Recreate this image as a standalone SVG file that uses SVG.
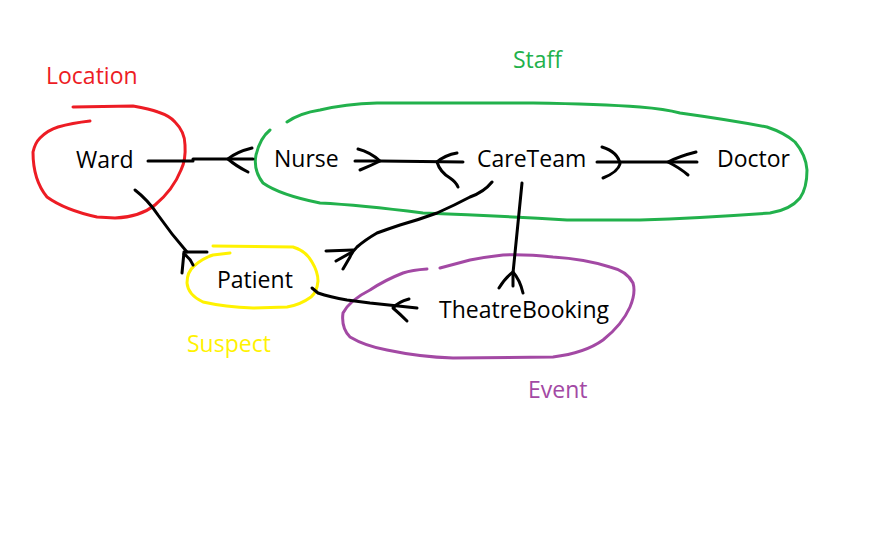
<svg xmlns="http://www.w3.org/2000/svg" width="880" height="536" viewBox="0 0 880 536">
<style>
  .bg { fill: #ffffff; }
  .t { font-family: "Open Sans", "Noto Sans", sans-serif; font-size: 23px; fill: #000000; }
  .loop { fill: none; stroke-width: 3; stroke-linecap: round; stroke-linejoin: round; }
  .conn { fill: none; stroke: #000000; stroke-width: 3; stroke-linecap: round; stroke-linejoin: round; }
  .red { stroke: #ed1c24; }
  .green { stroke: #22b14c; }
  .yellow { stroke: #fff200; }
  .purple { stroke: #a349a4; }
</style>
<rect class="bg" x="0" y="0" width="880" height="536"/>

<g id="location">
  <path class="loop red" d="M73,107 L133,106 Q150,109 158,112 Q170,116 175,122 Q185,132 185,145 Q186,160 181,170 Q173,190 155,205 Q140,217 115,218 L97,217 Q65,210 47,197 Q33,180 33,152 Q35,143 40,138 Q48,130 58,127 Q72,123 90,121"/>
  <text class="t" x="46" y="84" style="fill:#ed1c24">Location</text>
</g>

<g id="staff">
  <path class="loop green" d="M287,122 Q300,113 320,110 Q345,104 377,103 L533,103 Q600,104 640,107 Q665,109 680,113 Q730,120 767,127 Q785,133 795,142 Q806,155 807,170 Q807,188 800,198 Q790,210 770,213 Q700,218 640,220 L567,220 Q500,216 423,213 Q360,205 320,203 Q280,195 263,183 Q253,170 256,155 Q260,138 270,130"/>
  <text class="t" x="513" y="68" style="fill:#22b14c">Staff</text>
</g>

<g id="suspect">
  <path class="loop yellow" d="M213,246 L293,247 Q306,251 312,262 Q318,272 318,281 Q317,292 311,297 Q300,305 287,307 L253,308 Q225,307 203,302 Q188,295 187,283 Q187,272 194,266 Q203,258 213,255 L230,253"/>
  <text class="t" x="187" y="352" style="fill:#fff200">Suspect</text>
</g>

<g id="event">
  <path class="loop purple" d="M427,269 Q412,270 403,273 Q385,280 370,290 Q350,300 343,313 Q341,328 350,337 Q365,346 387,350 Q420,357 453,358 L553,357 Q585,353 603,340 Q622,325 630,307 Q636,293 633,283 Q627,271 610,267 Q585,259 553,257 Q525,254 503,255 Q485,257 470,260 Q455,264 440,268"/>
  <text class="t" x="528" y="398" style="fill:#a349a4">Event</text>
</g>

<g id="ward"><text class="t" x="76" y="168">Ward</text></g>
<g id="nurse"><text class="t" x="274" y="167">Nurse</text></g>
<g id="careteam"><text class="t" x="477" y="167">CareTeam</text></g>
<g id="doctor"><text class="t" x="717" y="167">Doctor</text></g>
<g id="patient"><text class="t" x="217" y="288">Patient</text></g>
<g id="theatrebooking"><text class="t" x="439" y="318">TheatreBooking</text></g>

<g id="connectors">
  <!-- Ward - Nurse -->
  <path class="conn" d="M148,161 L193,161 L193,159 L253,159"/>
  <path class="conn" d="M252,148 Q236,152 228,159 Q236,166 248,172"/>
  <!-- Ward - Patient -->
  <path class="conn" d="M135,190 Q148,200 158,215 Q172,235 187,252"/>
  <path class="conn" d="M207,252 L184,252 L182,273"/>
  <path class="conn" d="M184,254 Q190,258 193,265"/>
  <!-- Nurse - CareTeam -->
  <path class="conn" d="M355,161 L380,161 L463,162"/>
  <path class="conn" d="M358,149 Q370,152 380,161 Q370,166 360,170"/>
  <path class="conn" d="M457,153 Q445,155 437,162 Q440,172 450,178 Q456,182 458,187"/>
  <!-- CareTeam - Doctor -->
  <path class="conn" d="M597,162 L697,162"/>
  <path class="conn" d="M602,147 Q618,152 620,164 Q618,172 603,178"/>
  <path class="conn" d="M696,152 Q680,156 668,162 Q680,168 688,175"/>
  <!-- CareTeam - Patient -->
  <path class="conn" d="M492,182 Q484,192 470,197 Q455,205 437,213 Q418,220 400,225 Q388,229 377,233 Q365,240 357,247 Q352,252 350,257 L343,269"/>
  <path class="conn" d="M326,251 L353,250"/>
  <path class="conn" d="M352,252 L336,261"/>
  <!-- CareTeam - TheatreBooking -->
  <path class="conn" d="M522,183 L517,233 L513,273 L513,286"/>
  <path class="conn" d="M499,288 Q505,278 513,272 Q520,280 523,293"/>
  <!-- Patient - TheatreBooking -->
  <path class="conn" d="M312,288 L318,293 Q330,297 347,300 L370,303 L417,308"/>
  <path class="conn" d="M409,299 Q398,302 393,308 Q400,314 407,321"/>
</g>
</svg>
